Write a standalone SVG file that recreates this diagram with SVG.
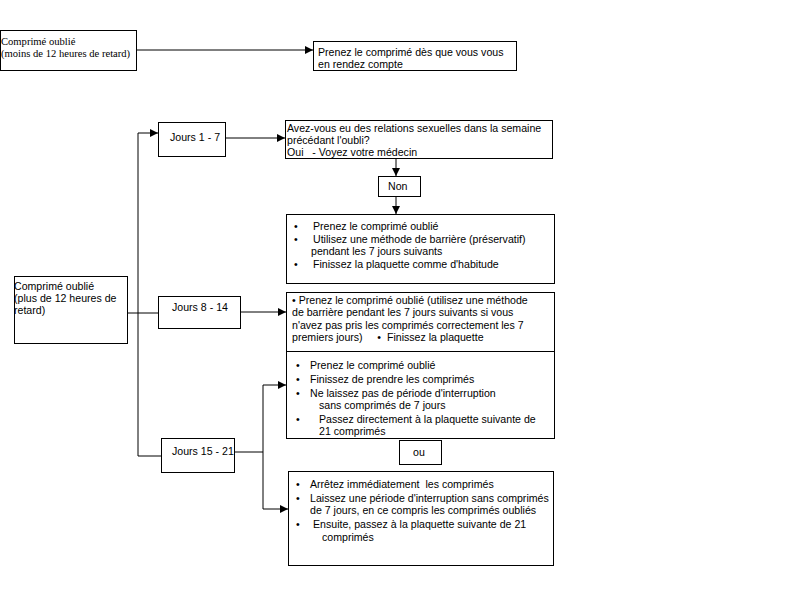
<svg xmlns="http://www.w3.org/2000/svg" width="803" height="598" viewBox="0 0 803 598">
<defs>
<style>
rect{fill:#fff;stroke:#000;stroke-width:1}
text{font-family:"Liberation Sans",Arial,sans-serif;font-size:10.6px;fill:#000}
.serif{font-family:"Liberation Serif","Times New Roman",serif;font-size:10.6px}
.c line,.c polyline{stroke:#000;stroke-width:1;fill:none}
</style>
<marker id="ah" viewBox="0 0 10 10" refX="10" refY="5" markerWidth="9" markerHeight="8" markerUnits="userSpaceOnUse" orient="auto">
<path d="M0,0 L10,5 L0,10 z" fill="#000"/>
</marker>
</defs>
<rect x="0" y="0" width="803" height="598" style="fill:#fff;stroke:none"/>
<g class="c">
<line x1="137" y1="50" x2="313" y2="50" marker-end="url(#ah)"/>
<line x1="138" y1="133" x2="138" y2="456"/>
<line x1="138" y1="133" x2="158" y2="133" marker-end="url(#ah)"/>
<line x1="127" y1="313" x2="158" y2="313"/>
<line x1="138" y1="456" x2="161" y2="456"/>
<line x1="225" y1="138" x2="285" y2="138" marker-end="url(#ah)"/>
<line x1="240" y1="312" x2="286" y2="312" marker-end="url(#ah)"/>
<line x1="396" y1="158" x2="396" y2="176" marker-end="url(#ah)"/>
<line x1="396" y1="196" x2="396" y2="214" marker-end="url(#ah)"/>
<line x1="234" y1="452" x2="263" y2="452"/>
<line x1="263" y1="385" x2="263" y2="509"/>
<line x1="263" y1="385" x2="286" y2="385" marker-end="url(#ah)"/>
<line x1="263" y1="509" x2="288" y2="509" marker-end="url(#ah)"/>
</g>
<g id="n1"><rect x="0.5" y="30.5" width="136" height="40"/>
<text class="serif" x="1" y="45">Comprimé oublié</text>
<text class="serif" x="1" y="57">(moins de 12 heures de retard)</text></g>
<g id="n2"><rect x="313.5" y="41.5" width="203" height="29"/>
<text x="318" y="56">Prenez le comprimé dès que vous vous</text>
<text x="318" y="68">en rendez compte</text></g>
<g id="n3"><rect x="158.5" y="122.5" width="67" height="34"/>
<text x="170" y="141">Jours 1 - 7</text></g>
<g id="n4"><rect x="285.5" y="120.5" width="267" height="38"/>
<text x="287" y="132">Avez-vous eu des relations sexuelles dans la semaine</text>
<text x="287" y="144">précédant l'oubli?</text>
<text x="287" y="156" xml:space="preserve">Oui   - Voyez votre médecin</text></g>
<g id="n5"><rect x="378.5" y="176.5" width="42" height="20"/>
<text x="388" y="190">Non</text></g>
<g id="n6"><rect x="286.5" y="214.5" width="268" height="69"/>
<text x="294" y="230">•</text><text x="313" y="230">Prenez le comprimé oublié</text>
<text x="294" y="243">•</text><text x="313" y="243">Utilisez une méthode de barrière (préservatif)</text>
<text x="311" y="255">pendant les 7 jours suivants</text>
<text x="294" y="268">•</text><text x="313" y="268">Finissez la plaquette comme d'habitude</text></g>
<g id="n7"><rect x="14.5" y="276.5" width="113" height="67"/>
<text x="14" y="290">Comprimé  oublié</text>
<text x="14" y="302">(plus de 12 heures de</text>
<text x="14" y="314">retard)</text></g>
<g id="n8"><rect x="158.5" y="296.5" width="82" height="32"/>
<text x="172" y="311">Jours 8 - 14</text></g>
<g id="n9"><rect x="286.5" y="292.5" width="268" height="59"/>
<text x="292" y="304">• Prenez le comprimé oublié (utilisez une méthode</text>
<text x="292" y="316">de barrière pendant les 7 jours suivants si vous</text>
<text x="292" y="329">n'avez pas pris les comprimés correctement les 7</text>
<text x="292" y="341" xml:space="preserve">premiers jours)     •  Finissez la plaquette</text></g>
<g id="n10"><rect x="286.5" y="351.5" width="268" height="87"/>
<text x="296" y="369">•</text><text x="310" y="369">Prenez le comprimé oublié</text>
<text x="296" y="383">•</text><text x="310" y="383">Finissez de prendre les comprimés</text>
<text x="296" y="397">•</text><text x="310" y="397">Ne laissez pas de période d'interruption</text>
<text x="319" y="409">sans comprimés de 7 jours</text>
<text x="296" y="423">•</text><text x="319" y="423">Passez directement à la plaquette suivante de</text>
<text x="319" y="435">21 comprimés</text></g>
<g id="n11"><rect x="399.5" y="440.5" width="42" height="24"/>
<text x="413" y="456">ou</text></g>
<g id="n12"><rect x="161.5" y="438.5" width="73" height="34"/>
<text x="172" y="455">Jours 15 - 21</text></g>
<g id="n13"><rect x="288.5" y="471.5" width="265" height="94"/>
<text x="296" y="488">•</text><text x="310" y="488" xml:space="preserve">Arrêtez immédiatement  les comprimés</text>
<text x="296" y="502">•</text><text x="310" y="502">Laissez une période d'interruption sans comprimés</text>
<text x="310" y="514">de 7 jours, en ce compris les comprimés oubliés</text>
<text x="296" y="528">•</text><text x="313" y="528">Ensuite, passez à la plaquette suivante de 21</text>
<text x="322" y="541">comprimés</text></g>
</svg>
